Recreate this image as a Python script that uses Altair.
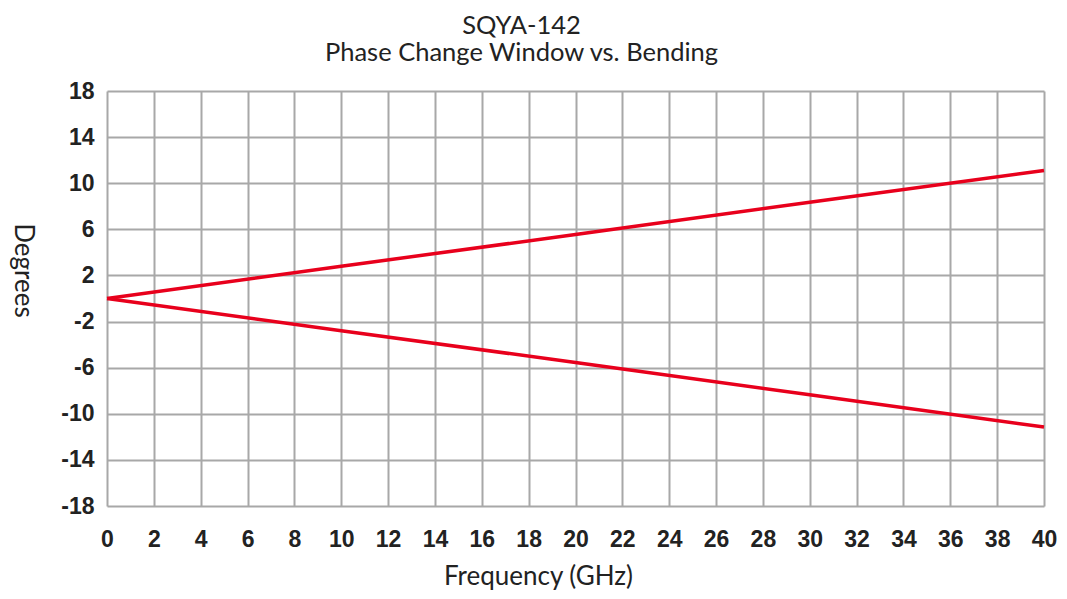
import altair as alt
import pandas as pd

freq = [0, 10, 20, 30, 40]
upper = [0, 2.8, 5.55, 8.35, 11.1]
lower = [0, -2.8, -5.55, -8.35, -11.15]

df = pd.concat([
    pd.DataFrame({"f": freq, "deg": upper, "s": "upper"}),
    pd.DataFrame({"f": freq, "deg": lower, "s": "lower"}),
])

xticks = list(range(0, 41, 2))
yticks = list(range(-18, 19, 4))

label_style = dict(labelFont="Liberation Sans", labelFontSize=23, labelFontWeight="bold",
                   labelColor="#222", labelExpr="datum.value + ''", labelFlush=False)

chart = alt.Chart(df).mark_line(color="#e8001c", strokeWidth=3.5).encode(
    x=alt.X("f:Q", scale=alt.Scale(domain=[0, 40], nice=False),
            axis=alt.Axis(values=xticks, title="Frequency (GHz)", titleX=431, titleAlign="center",
                          titlePadding=12, labelPadding=22, **label_style)),
    y=alt.Y("deg:Q", scale=alt.Scale(domain=[-18, 18], nice=False),
            axis=alt.Axis(values=yticks, title="Degrees", titleAngle=90, titleX=-85, titleY=179,
                          titleAlign="center", titleBaseline="middle", labelPadding=13, **label_style)),
    detail="s:N",
).properties(
    width=937, height=415,
    padding={"left": 99, "top": 83, "right": 15, "bottom": 85},
    autosize=alt.AutoSizeParams(type="none"),
    title=alt.TitleParams(text=["SQYA-142", "Phase Change Window vs. Bending"], anchor="middle",
                          dx=-54, lineHeight=27, fontSize=25.5, font="Lato", fontWeight="normal",
                          color="#222", offset=14),
).configure_axis(
    grid=True, gridColor="#a8a8a8", gridWidth=2, domain=False, ticks=False,
    titleFont="Lato", titleFontSize=26, titleFontWeight="normal", titleColor="#222",
).configure_view(stroke=None)

chart.save("out.html", embed_options={"renderer": "svg", "actions": False})
